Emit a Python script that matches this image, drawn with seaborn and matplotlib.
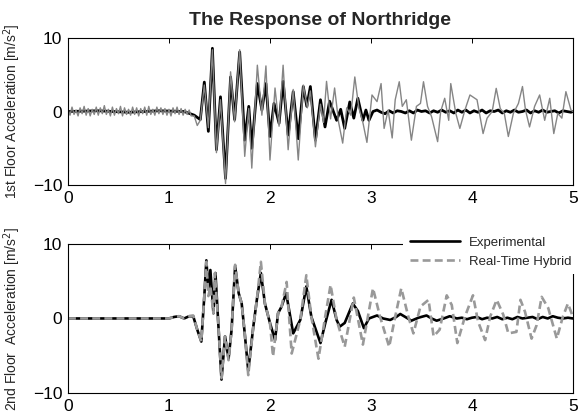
import matplotlib
matplotlib.use("Agg")
import matplotlib.pyplot as plt
import seaborn as sns
import pandas as pd

# ---- data (time [s], acceleration [m/s^2]) ----
# 1st floor, experimental (black)
exp1_t = [0.0, 0.3, 0.6, 0.9, 1.15, 1.25, 1.31, 1.35, 1.39, 1.43, 1.47, 1.51, 1.56, 1.61,
          1.65, 1.70, 1.75, 1.79, 1.82, 1.875, 1.92, 1.96, 2.00, 2.04, 2.09, 2.13, 2.18,
          2.23, 2.28, 2.33, 2.365, 2.40, 2.45, 2.50, 2.545, 2.59, 2.66, 2.70, 2.74, 2.79,
          2.83, 2.87, 2.92, 2.95, 2.98, 3.02, 3.06, 3.10, 3.14, 3.18, 3.22, 3.26, 3.30,
          3.34, 3.38, 3.42, 3.46, 3.50, 3.54, 3.58, 3.62, 3.66, 3.70, 3.74, 3.78, 3.82,
          3.86, 3.90, 3.94, 3.98, 4.02, 4.06, 4.10, 4.14, 4.18, 4.22, 4.26, 4.30, 4.34,
          4.38, 4.42, 4.46, 4.50, 4.54, 4.58, 4.62, 4.66, 4.70, 4.74, 4.78, 4.82, 4.86,
          4.90, 4.94, 4.98, 5.0]
exp1_a = [0.0, 0.1, -0.1, 0.1, 0.0, -0.5, -1.1, 4.0, -2.7, 8.6, -5.2, 2.0, -9.1, 4.7,
          -1.1, 8.1, -3.9, 0.7, -5.0, 3.8, 0.2, 3.8, -3.4, 1.1, -1.6, 4.1, -3.2,
          2.7, -3.7, 3.4, 0.7, 3.4, -3.9, 1.6, -2.1, 1.4, -1.2, 0.3, -2.3, 1.3,
          -0.9, 1.8, -1.2, 0.2, -1.2, 0.0, 0.2, -0.1, -0.3, 0.1, -0.2, 0.1, 0.0,
          -0.2, 0.1, -0.2, 0.2, 0.0, 0.1, -0.2, 0.1, -0.1, 0.2, -0.1, 0.1, -0.2,
          0.2, -0.1, 0.2, -0.2, 0.1, -0.1, 0.2, -0.2, 0.1, 0.0, 0.2, -0.2, 0.1,
          -0.1, 0.2, -0.1, 0.0, 0.2, -0.2, 0.1, -0.1, 0.2, -0.1, 0.0, 0.1, -0.2,
          0.1, 0.0, -0.1, 0.0]

# 1st floor, real-time hybrid (grey)
rth1_t = [0.00, 0.02, 0.04, 0.06, 0.08, 0.10, 0.12, 0.14, 0.16, 0.18, 0.20, 0.22, 0.24,
          0.26, 0.28, 0.30, 0.32, 0.34, 0.36, 0.38, 0.40, 0.42, 0.44, 0.46, 0.48, 0.50,
          0.52, 0.54, 0.56, 0.58, 0.60, 0.62, 0.64, 0.66, 0.68, 0.70, 0.72, 0.74, 0.76,
          0.78, 0.80, 0.82, 0.84, 0.86, 0.88, 0.90, 0.92, 0.94, 0.96, 0.98, 1.00, 1.02,
          1.04, 1.06, 1.08, 1.10, 1.12, 1.14, 1.16, 1.18, 1.20, 1.22,
          1.25, 1.28, 1.31, 1.35, 1.39, 1.43, 1.47, 1.51, 1.56, 1.61,
          1.65, 1.70, 1.75, 1.79, 1.82, 1.875, 1.92, 1.96, 2.00, 2.05, 2.09, 2.13, 2.18,
          2.23, 2.28, 2.33, 2.37, 2.40, 2.45, 2.50, 2.53, 2.56, 2.60, 2.64, 2.68, 2.72,
          2.76, 2.80, 2.84, 2.88, 2.92, 2.96, 3.01, 3.06, 3.10, 3.13, 3.17, 3.21, 3.24,
          3.28, 3.31, 3.35, 3.40, 3.45, 3.49, 3.52, 3.56, 3.60, 3.66, 3.69, 3.73, 3.77,
          3.79, 3.84, 3.88, 3.93, 3.98, 4.05, 4.11, 4.15, 4.20, 4.24, 4.28, 4.32, 4.36,
          4.41, 4.46, 4.50, 4.53, 4.57, 4.62, 4.67, 4.72, 4.77, 4.81, 4.85, 4.89, 4.93,
          4.98, 5.0]
rth1_a = [0.3, -0.5, 0.6, -0.4, 0.2, -0.6, 0.5, -0.3, 0.7, -0.5,
          0.4, -0.6, 0.3, -0.4, 0.6, -0.5, 0.5, -0.3, 0.8, -0.4,
          0.3, -0.6, 0.6, -0.5, 0.4, -0.3, 0.7, -0.6, 0.5, -0.4,
          0.3, -0.5, 0.6, -0.4, 0.5, -0.6, 0.4, -0.3, 0.6, -0.5,
          0.7, -0.4, 0.3, -0.5, 0.6, -0.3, 0.5, -0.4, 0.4, -0.5,
          0.3, -0.6, 0.5, -0.3, 0.6, -0.4, 0.4, -0.5, 0.3, -0.4,
          0.2, -0.6,
          -0.6, -1.9, -1.2, 3.6, -2.2, 8.4, -5.6, 1.6, -9.8, 5.4,
          -1.4, 8.4, -6.1, 0.4, -7.7, 6.3, -0.5, 6.2, -6.6, 3.2, -2.0, 6.3, -5.2,
          3.0, -6.6, 3.6, 0.5, 2.8, -4.8, 1.0, -1.5, 4.1, -1.0, 3.2, -1.5, -4.3,
          0.5, -0.5, 4.7, 0.5, -1.5, -4.2, 2.25, 1.35, 3.8, -2.3, 0.2, -3.6, 1.6,
          4.05, 0.7, 1.6, -3.9, 0.7, 1.1, 4.05, 0.7, -0.7, -4.1, 0.0, 1.8, -1.2,
          3.8, -0.25, -2.3, 0.2, 2.25, 1.6, -3.0, -0.9, 0.0, 3.15, 0.4, -0.25, -3.4,
          -0.25, 1.1, 3.4, 0.2, -2.1, 0.7, 2.25, -1.2, 1.8, -3.0, -0.25, -0.9, 2.7,
          0.2, 0.0]

# 2nd floor, experimental (black)
exp2_t = [0.0, 0.5, 1.0, 1.05, 1.1, 1.15, 1.2, 1.24, 1.28, 1.32, 1.35, 1.37, 1.39, 1.41,
          1.44, 1.46, 1.49, 1.52, 1.555, 1.59, 1.62, 1.655, 1.69, 1.72, 1.75, 1.785,
          1.835, 1.87, 1.91, 1.95, 2.00, 2.05, 2.08, 2.115, 2.16, 2.23, 2.30, 2.36,
          2.41, 2.50, 2.55, 2.61, 2.66, 2.69, 2.74, 2.82, 2.87, 2.93, 2.98, 3.06, 3.12,
          3.19, 3.25, 3.29, 3.34, 3.40, 3.47, 3.55, 3.60, 3.65, 3.72, 3.78, 3.85, 3.90,
          3.95, 4.00, 4.05, 4.10, 4.15, 4.20, 4.25, 4.30, 4.35, 4.40, 4.45, 4.50, 4.55,
          4.60, 4.65, 4.70, 4.75, 4.80, 4.85, 4.90, 4.95, 5.0]
exp2_a = [0.0, 0.0, 0.0, 0.2, 0.3, 0.0, 0.3, 0.3, -1.5, -3.1, 3.0, 7.8, 4.0, 6.5,
          0.7, 6.1, -1.1, -8.2, -2.4, -5.4, -1.5, 7.0, 3.4, 2.0, -2.0, -7.0,
          -1.1, 2.5, 6.1, 2.0, -0.6, -2.9, 0.7, 1.6, 3.4, -2.0, -0.2, 4.3,
          0.2, -3.3, -0.5, 2.5, -0.2, -1.1, -0.6, 2.0, 1.0, -1.3, 0.0, 0.4, 0.0,
          -0.2, 0.2, 0.6, 0.2, -0.3, 0.1, 0.4, 0.0, -0.3, 0.0, 0.3, 0.0, 0.1,
          -0.1, 0.1, 0.2, -0.1, 0.1, 0.0, 0.2, -0.1, 0.1, -0.1, 0.2, 0.0, 0.1,
          0.2, -0.1, 0.2, 0.0, 0.3, 0.1, 0.0, 0.1, 0.0]

# 2nd floor, real-time hybrid (grey dashed)
rth2_t = [0.0, 0.5, 1.0, 1.05, 1.1, 1.15, 1.2, 1.24, 1.28, 1.32, 1.35, 1.37, 1.39, 1.41,
          1.44, 1.455, 1.49, 1.52, 1.555, 1.59, 1.62, 1.655, 1.69, 1.72, 1.75, 1.785,
          1.835, 1.87, 1.91, 1.95, 2.00, 2.03, 2.08, 2.115, 2.165, 2.215, 2.30, 2.36,
          2.41, 2.48, 2.55, 2.60, 2.66, 2.74, 2.83, 2.92, 3.02, 3.09, 3.18, 3.24, 3.30,
          3.37, 3.42, 3.49, 3.57, 3.62, 3.68, 3.75, 3.80, 3.855, 3.93, 4.01, 4.06, 4.13,
          4.18, 4.245, 4.31, 4.36, 4.44, 4.48, 4.525, 4.59, 4.64, 4.69, 4.755, 4.84,
          4.90, 4.95, 5.0]
rth2_a = [0.0, 0.0, 0.0, 0.2, 0.3, 0.0, 0.3, 0.4, -1.5, -3.1, 3.0, 7.6, 3.0, 4.3,
          0.7, 6.1, -1.1, -8.0, -2.4, -5.6, -1.5, 7.2, 3.4, 2.0, -2.0, -7.6,
          -1.1, 2.5, 7.6, 2.0, -0.6, -5.1, 0.7, 1.6, 4.9, -4.7, -0.2, 5.8,
          0.2, -5.4, 0.5, 4.5, -0.2, -3.8, 2.8, -3.5, 4.05, 0.24, -3.8, 0.24, 4.05,
          0.24, -2.0, 1.6, 2.5, -2.4, -1.5, 3.1, 1.8, -3.3, 0.24, 3.1, -0.4, -2.9,
          0.24, 2.5, 0.5, -2.0, -1.8, 2.5, 0.9, -2.7, -0.9, 2.9, 1.4, -2.7,
          0.24, 2.0, 0.2]

x_ticks = [0, 1, 2, 3, 4, 5]
y_ticks = [-10, 0, 10]

sns.set_style("white")
plt.rcParams['font.family'] = ['Liberation Sans', 'DejaVu Sans']

fig = plt.figure(figsize=(5.78, 4.13), dpi=100)
ax1 = fig.add_axes([0.1176, 0.552, 0.8737, 0.356])
ax2 = fig.add_axes([0.1176, 0.0484, 0.8737, 0.361])

top = pd.DataFrame({'t': exp1_t, 'a': exp1_a})
top_rth = pd.DataFrame({'t': rth1_t, 'a': rth1_a})
bot = pd.DataFrame({'t': exp2_t, 'a': exp2_a})
bot_rth = pd.DataFrame({'t': rth2_t, 'a': rth2_a})

sns.lineplot(data=top, x='t', y='a', ax=ax1, color='black', linewidth=2.0,
             sort=False, estimator=None)
sns.lineplot(data=top_rth, x='t', y='a', ax=ax1, color='#858585', linewidth=1.0,
             sort=False, estimator=None)

sns.lineplot(data=bot, x='t', y='a', ax=ax2, color='black', linewidth=1.9,
             sort=False, estimator=None, label='Experimental')
sns.lineplot(data=bot_rth, x='t', y='a', ax=ax2, color='#999999', linewidth=1.9,
             sort=False, estimator=None, label='Real-Time Hybrid')
ax2.lines[-1].set_dashes([3, 1.6])

for ax in (ax1, ax2):
    ax.set_xlim(0, 5)
    ax.set_ylim(-10, 10)
    ax.set_xticks(x_ticks)
    ax.set_yticks(y_ticks)
    ax.tick_params(direction='in', top=True, right=True, length=3.5, width=0.7,
                   labelsize=12.5, pad=4, colors='black')
    ax.set_xlabel('')
    for s in ax.spines.values():
        s.set_visible(True)
        s.set_color('black')
        s.set_linewidth(0.8)
    ax.yaxis.set_label_coords(-0.09, 0.5)

ax1.set_ylabel('1st Floor Acceleration [m/s$^2$]', fontsize=10)
ax2.set_ylabel('2nd Floor  Acceleration [m/s$^2$]', fontsize=10)
ax1.set_title('The Response of Northridge', fontsize=14, fontweight='bold', pad=9)

leg = ax2.legend(loc='upper right', bbox_to_anchor=(1.0, 0.443),
                 bbox_transform=fig.transFigure, fontsize=9.5, frameon=True,
                 fancybox=False, framealpha=1, edgecolor='white', facecolor='white',
                 handlelength=3.8, handletextpad=0.7, labelspacing=0.5,
                 borderpad=0.5, borderaxespad=0)
leg.get_frame().set_linewidth(0)

fig.savefig('out.png', dpi=100)
